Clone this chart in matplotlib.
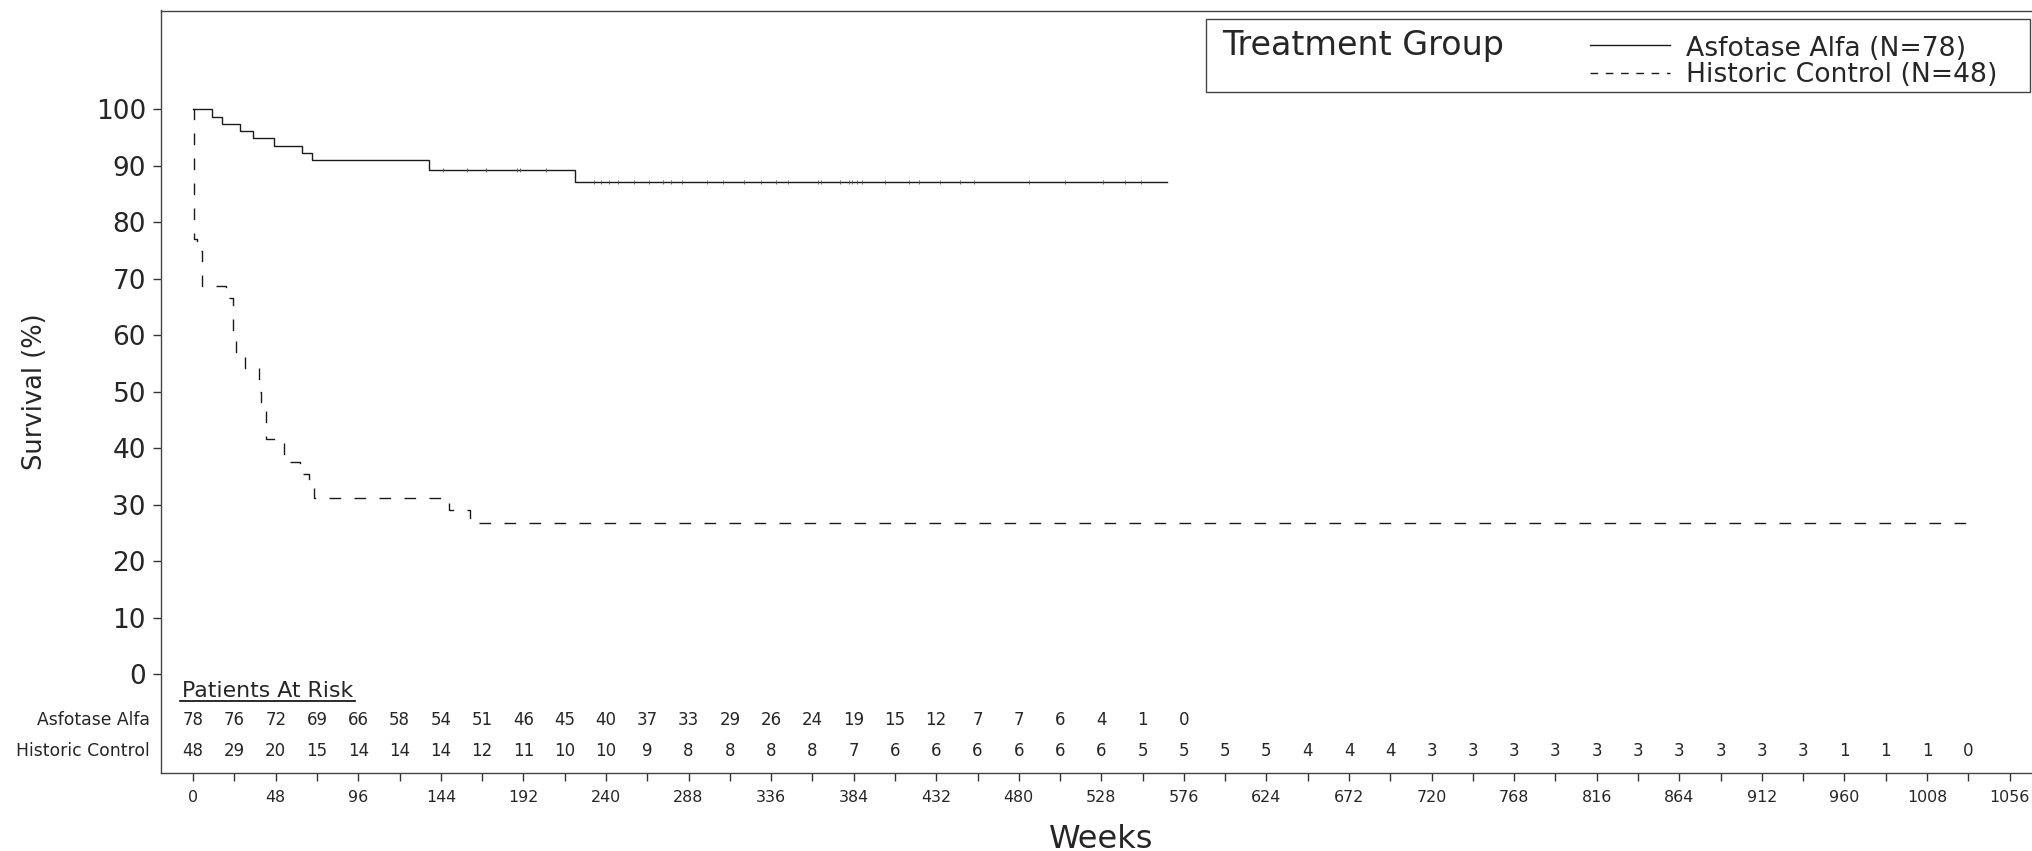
import numpy as np
import matplotlib
matplotlib.use('Agg')
import matplotlib.pyplot as plt
from matplotlib.transforms import blended_transform_factory
from matplotlib.lines import Line2D
from matplotlib.patches import Rectangle

# ---------------- data ----------------
aa_times = [0, 11, 17, 27, 35, 47, 63, 69, 137, 222]
aa_surv = [100, 98.72, 97.44, 96.15, 94.87, 93.59, 92.31, 91.03, 89.3, 87.2]
aa_end = 566
aa_censor = [145, 159, 170, 188, 190, 205, 233, 237, 242, 247, 256, 265, 273,
             278, 284, 299, 308, 320, 330, 339, 346, 363, 365, 376, 381, 383,
             386, 389, 402, 416, 422, 434, 446, 454, 486, 507, 529, 542, 551]

hc_times = [0, 0.5, 2.5, 5, 19, 23, 25, 30, 38, 39.5, 42.5, 53, 62, 67.5, 70, 149, 161]
hc_surv = [100, 77.08, 75.0, 68.75, 66.67, 60.42, 56.25, 54.17, 50.0, 47.92,
           41.67, 37.5, 35.42, 33.33, 31.25, 29.02, 26.79]
hc_end = 1031

risk_weeks_aa = list(range(0, 577, 24))
risk_aa = [78, 76, 72, 69, 66, 58, 54, 51, 46, 45, 40, 37, 33, 29, 26, 24, 19,
           15, 12, 7, 7, 6, 4, 1, 0]
risk_weeks_hc = list(range(0, 1033, 24))
risk_hc = [48, 29, 20, 15, 14, 14, 14, 12, 11, 10, 10, 9, 8, 8, 8, 8, 7, 6, 6,
           6, 6, 6, 6, 5, 5, 5, 5, 4, 4, 4, 3, 3, 3, 3, 3, 3, 3, 3, 3, 3, 1, 1, 1, 0]

x_ticks = list(range(0, 1057, 24))
x_labels = [str(v) if v % 48 == 0 else '' for v in x_ticks]
y_ticks = list(range(0, 101, 10))

group_names = ['Asfotase Alfa', 'Historic Control']
legend_labels = ['Asfotase Alfa (N=78)', 'Historic Control (N=48)']

# ---------------- styling ----------------
plt.rcParams['font.family'] = ['DejaVu Sans']
TXT = '#262626'
LINE = '#1a1a1a'
W, H = 2033, 851

fig = plt.figure(figsize=(W / 100, H / 100), dpi=100)
ax_l, ax_r, ax_t, ax_b = 161, 2040, 10.5, 773
ax = fig.add_axes([ax_l / W, 1 - ax_b / H, (ax_r - ax_l) / W, (ax_b - ax_t) / H])
ax.set_xlim(-18.7, 1073.7)
ax.set_ylim(-17.5, 117.5)

for s in ax.spines.values():
    s.set_color('#444444')
    s.set_linewidth(1.0)

# KM curves
ax.step(aa_times + [aa_end], aa_surv + [aa_surv[-1]], where='post',
        color=LINE, lw=1.0, solid_joinstyle='miter')
ax.step(hc_times + [hc_end], hc_surv + [hc_surv[-1]], where='post',
        color=LINE, lw=1.0, linestyle=(0, (8.4, 9.6)))

# censor marks
idx = np.searchsorted(aa_times, aa_censor, side='right') - 1
cens_y = np.array(aa_surv)[idx]
ax.plot(aa_censor, cens_y, linestyle='none', marker='|', markersize=2.5,
        markeredgewidth=0.6, color='#555555')

# axes ticks
ax.set_xticks(x_ticks)
ax.set_xticklabels(x_labels)
ax.set_yticks(y_ticks)
ax.tick_params(axis='x', length=5.5, width=1, pad=7, labelsize=11.4,
               colors='#333333', labelcolor=TXT)
ax.tick_params(axis='y', length=5.8, width=1, pad=5, labelsize=19,
               colors='#333333', labelcolor=TXT)

# at-risk table
y_aa, y_hc = -8.1, -13.6
fs_risk = 12
for wk, n in zip(risk_weeks_aa, risk_aa):
    ax.text(wk, y_aa, str(n), ha='center', va='center', fontsize=fs_risk, color=TXT)
for wk, n in zip(risk_weeks_hc, risk_hc):
    ax.text(wk, y_hc, str(n), ha='center', va='center', fontsize=fs_risk, color=TXT)
bt = blended_transform_factory(ax.transAxes, ax.transData)
ax.text(-0.006, y_aa, group_names[0], transform=bt, ha='right', va='center',
        fontsize=12.4, color=TXT)
ax.text(-0.006, y_hc, group_names[1], transform=bt, ha='right', va='center',
        fontsize=12.4, color=TXT)
par = ax.text(-6.5, -3.0, 'Patients At Risk', ha='left', va='center',
              fontsize=15.8, color=TXT)
fig.canvas.draw()
bb = par.get_window_extent(fig.canvas.get_renderer())
inv = ax.transData.inverted()
(x0, _), (x1, _) = inv.transform([(bb.x0, bb.y0), (bb.x1, bb.y0)])
ax.plot([x0 - 1, x1 + 1], [-4.75, -4.75], color=LINE, lw=1.3)

# axis titles
fig.text(35 / W, 1 - 392 / H, 'Survival (%)', rotation=90, ha='center',
         va='center', fontsize=18.5, color=TXT)
fig.text(1101 / W, 1 - 839 / H, 'Weeks', ha='center', va='center',
         fontsize=23, color=TXT)

# legend box
def fx(px):
    return px / W

def fy(py):
    return 1 - py / H

fig.add_artist(Rectangle((fx(1206), fy(92)), fx(2030) - fx(1206), fy(19) - fy(92),
                         transform=fig.transFigure, fill=False,
                         edgecolor='#444444', lw=1.0))
fig.text(fx(1222), fy(46), 'Treatment Group', ha='left', va='center',
         fontsize=24, color=TXT)
fig.add_artist(Line2D([fx(1590), fx(1670)], [fy(45), fy(45)],
                      transform=fig.transFigure, color=LINE, lw=1.0))
fig.add_artist(Line2D([fx(1590), fx(1670)], [fy(73), fy(73)],
                      transform=fig.transFigure, color=LINE, lw=1.0,
                      linestyle=(0, (5.5, 5.5))))
fig.text(fx(1686), fy(49), legend_labels[0], ha='left', va='center',
         fontsize=19.2, color=TXT)
fig.text(fx(1686), fy(75), legend_labels[1], ha='left', va='center',
         fontsize=19.2, color=TXT)

fig.savefig('out.png', dpi=100)
